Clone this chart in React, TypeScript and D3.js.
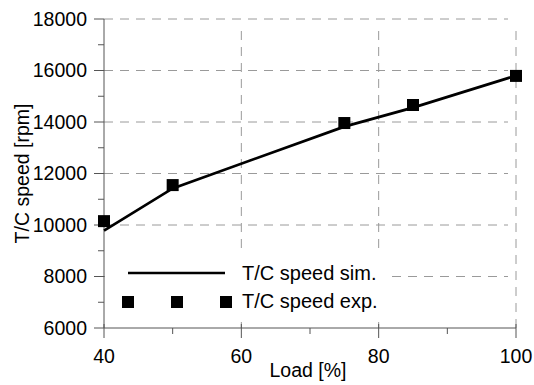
import React, { useEffect, useRef } from "react";
import * as d3 from "d3";

const loads = [40, 50, 75, 85, 100];
const simSpeed = [9780, 11420, 13820, 14560, 15800];
const expSpeed = [10150, 11550, 13960, 14660, 15790];
const xTicks = [40, 60, 80, 100];
const xMinor = [50, 70, 90];
const yTicks = [6000, 8000, 10000, 12000, 14000, 16000, 18000];
const yMinor = [7000, 9000, 11000, 13000, 15000, 17000];

export default function App() {
  const ref = useRef<SVGSVGElement>(null);

  useEffect(() => {
    const width = 534,
      height = 385;
    const svg = d3.select(ref.current);
    svg.selectAll("*").remove();

    const x = d3.scaleLinear().domain([40, 100]).range([104, 516]);
    const y = d3.scaleLinear().domain([6000, 18000]).range([328, 19]);
    const font = "Liberation Sans, Arial, sans-serif";
    const gridColor = "#9a9a9a";

    // horizontal grid
    svg
      .append("g")
      .selectAll("line")
      .data(yTicks.filter((d) => d > 6000))
      .enter()
      .append("line")
      .attr("x1", x(40))
      .attr("x2", x(100) - 8)
      .attr("y1", (d) => y(d))
      .attr("y2", (d) => y(d))
      .attr("stroke", gridColor)
      .attr("stroke-width", 1)
      .attr("stroke-dasharray", "9,7");

    // vertical grid
    svg
      .append("g")
      .selectAll("line")
      .data(xTicks.filter((d) => d > 40))
      .enter()
      .append("line")
      .attr("x1", (d) => x(d))
      .attr("x2", (d) => x(d))
      .attr("y1", y(6000))
      .attr("y2", y(18000) + 9)
      .attr("stroke", gridColor)
      .attr("stroke-width", 1)
      .attr("stroke-dasharray", "9,7");

    // legend background
    svg
      .append("rect")
      .attr("x", x(40) + 1)
      .attr("y", 250)
      .attr("width", 283)
      .attr("height", 72)
      .attr("fill", "#fff");

    // axes
    const axisColor = "#555";
    svg
      .append("line")
      .attr("x1", x(40))
      .attr("x2", x(40))
      .attr("y1", y(6000))
      .attr("y2", y(18000))
      .attr("stroke", axisColor);
    svg
      .append("line")
      .attr("x1", x(40))
      .attr("x2", x(100))
      .attr("y1", y(6000))
      .attr("y2", y(6000))
      .attr("stroke", axisColor);

    // y ticks
    svg
      .append("g")
      .selectAll("line.maj")
      .data(yTicks)
      .enter()
      .append("line")
      .attr("x1", x(40) - 10)
      .attr("x2", x(40))
      .attr("y1", (d) => y(d))
      .attr("y2", (d) => y(d))
      .attr("stroke", axisColor);
    svg
      .append("g")
      .selectAll("line")
      .data(yMinor)
      .enter()
      .append("line")
      .attr("x1", x(40) - 6)
      .attr("x2", x(40))
      .attr("y1", (d) => y(d))
      .attr("y2", (d) => y(d))
      .attr("stroke", axisColor);
    svg
      .append("g")
      .selectAll("text")
      .data(yTicks)
      .enter()
      .append("text")
      .attr("x", x(40) - 17)
      .attr("y", (d) => y(d))
      .attr("dy", "0.35em")
      .attr("text-anchor", "end")
      .style("font-family", font)
      .style("font-size", "19.5px")
      .text((d) => d);

    // x ticks
    svg
      .append("g")
      .selectAll("line")
      .data(xTicks)
      .enter()
      .append("line")
      .attr("x1", (d) => x(d))
      .attr("x2", (d) => x(d))
      .attr("y1", y(6000) - 4)
      .attr("y2", y(6000) + 10)
      .attr("stroke", axisColor);
    svg
      .append("g")
      .selectAll("line")
      .data(xMinor)
      .enter()
      .append("line")
      .attr("x1", (d) => x(d))
      .attr("x2", (d) => x(d))
      .attr("y1", y(6000))
      .attr("y2", y(6000) + 6)
      .attr("stroke", axisColor);
    svg
      .append("g")
      .selectAll("text")
      .data(xTicks)
      .enter()
      .append("text")
      .attr("x", (d) => x(d))
      .attr("y", 363)
      .attr("text-anchor", "middle")
      .style("font-family", font)
      .style("font-size", "19.5px")
      .text((d) => d);

    // axis titles
    svg
      .append("text")
      .attr("x", 308)
      .attr("y", 377)
      .attr("text-anchor", "middle")
      .style("font-family", font)
      .style("font-size", "19.5px")
      .text("Load [%]");
    svg
      .append("text")
      .attr("transform", `translate(29,${(y(6000) + y(18000)) / 2}) rotate(-90)`)
      .attr("text-anchor", "middle")
      .style("font-family", font)
      .style("font-size", "19.5px")
      .text("T/C speed [rpm]");

    // sim line
    const line = d3
      .line<number>()
      .x((d, i) => x(loads[i]))
      .y((d) => y(d));
    svg
      .append("path")
      .datum(simSpeed)
      .attr("d", line)
      .attr("fill", "none")
      .attr("stroke", "#000")
      .attr("stroke-width", 2.7);

    // exp markers
    const s = 12;
    svg
      .append("g")
      .selectAll("rect")
      .data(expSpeed)
      .enter()
      .append("rect")
      .attr("x", (d, i) => x(loads[i]) - s / 2)
      .attr("y", (d) => y(d) - s / 2)
      .attr("width", s)
      .attr("height", s)
      .attr("fill", "#000");

    // legend
    svg
      .append("line")
      .attr("x1", 128)
      .attr("x2", 225)
      .attr("y1", 273)
      .attr("y2", 273)
      .attr("stroke", "#000")
      .attr("stroke-width", 2.7);
    svg
      .append("g")
      .selectAll("rect")
      .data([128, 177, 226])
      .enter()
      .append("rect")
      .attr("x", (d) => d - s / 2)
      .attr("y", 302 - s / 2)
      .attr("width", s)
      .attr("height", s)
      .attr("fill", "#000");
    svg
      .append("g")
      .selectAll("text")
      .data([
        ["T/C speed sim.", 273],
        ["T/C speed exp.", 301],
      ])
      .enter()
      .append("text")
      .attr("x", 242)
      .attr("y", (d) => d[1] as number)
      .attr("dy", "0.35em")
      .style("font-family", font)
      .style("font-size", "20px")
      .text((d) => d[0] as string);

    svg.attr("width", width).attr("height", height);
  }, []);

  return (
    <svg
      ref={ref}
      width={534}
      height={385}
      style={{ position: "absolute", left: 0, top: 0, background: "#fff" }}
    />
  );
}
